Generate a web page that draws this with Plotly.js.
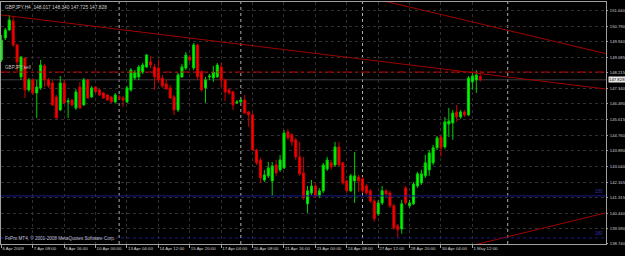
<!DOCTYPE html>
<html><head><meta charset="utf-8">
<script src="https://cdn.plot.ly/plotly-3.0.1.min.js"></script>
<style>html,body{margin:0;padding:0;background:#000;} #chart{width:625px;height:256px;}</style>
</head><body><div id="chart"></div>
<script>
const chartTitle = 'GBPJPY,H4  148.017 148.340 147.725 147.828';
const copyrightText = 'FxPro MT4, \u00a9 2001-2008 MetaQuotes Software Corp.';
const sellLabel = 'GBPJPY,sell';

const openP = [
148.93,150.15,150.59,151.09,149.76,147.99,149.04,147.27,147.82,147.10,
147.38,148.60,147.82,147.65,146.88,146.16,147.65,146.60,146.71,146.27,
147.43,146.44,147.82,146.88,147.43,147.27,147.10,146.99,146.88,146.60,
146.88,146.82,146.60,147.27,147.93,147.99,148.26,148.54,148.82,148.54,
148.48,147.93,147.60,147.38,146.88,146.16,147.99,148.48,149.09,148.48,
149.76,148.26,147.38,147.99,147.93,147.99,148.54,147.82,147.27,147.16,
146.55,146.60,146.71,146.05,145.88,143.94,143.39,142.28,142.51,142.23,
143.11,142.84,142.95,144.94,144.78,144.50,143.56,142.67,140.96,141.56,
141.95,141.40,141.68,142.89,143.23,143.11,144.11,143.23,142.23,141.68,
142.23,142.45,142.34,141.95,141.68,141.12,140.40,141.01,141.68,141.56,
140.85,139.74,139.57,141.84,140.85,140.96,141.95,142.12,142.51,142.84,
143.23,144.06,144.66,144.11,145.38,145.44,146.05,145.77,146.05,145.88,
147.71,147.82,148.017];
const highP = [
150.31,150.70,151.42,151.36,149.81,149.15,149.09,147.93,147.93,147.82,
148.93,148.71,147.93,147.82,146.99,148.04,147.82,146.82,146.77,147.32,
147.71,147.93,147.88,147.49,147.49,147.32,147.16,147.05,146.93,147.10,
146.99,146.93,147.49,148.48,148.37,148.65,148.76,149.26,149.15,148.71,
148.93,148.10,147.82,147.54,146.99,148.21,148.71,149.37,149.20,149.87,
149.81,148.37,147.99,148.15,148.60,148.76,148.76,147.88,147.38,147.21,
146.71,146.77,146.99,146.10,145.99,144.00,143.50,142.84,143.28,143.28,
143.39,143.67,145.05,145.11,144.88,144.61,144.39,143.56,141.95,142.28,
142.12,141.84,143.23,143.56,143.39,144.39,144.39,143.28,142.28,142.62,
143.83,142.56,142.45,142.06,141.79,141.23,141.18,141.95,141.79,141.68,
140.96,139.85,141.18,141.95,141.18,142.17,142.73,142.84,143.67,143.94,
144.22,144.72,144.78,145.77,146.27,146.16,146.44,146.16,146.16,148.04,
148.26,148.37,148.340];
const lowP = [
148.82,150.03,150.53,149.65,148.21,147.82,146.82,147.16,146.99,145.72,
147.27,147.43,147.38,146.38,145.66,146.10,146.49,145.72,146.33,146.16,
146.22,146.38,146.77,146.82,147.10,146.93,146.77,146.66,146.55,146.55,
146.71,146.33,146.55,147.16,147.82,147.82,148.15,148.48,148.48,147.27,
147.65,147.38,147.27,146.77,145.88,146.05,147.93,148.37,148.82,148.37,
147.82,147.16,146.55,147.82,147.71,147.93,147.43,146.66,146.99,146.16,
146.49,146.55,145.94,145.22,143.89,143.11,142.12,142.17,142.39,141.40,
142.51,142.73,142.89,144.50,144.17,143.39,142.51,141.18,140.46,141.45,
141.29,141.29,141.56,142.78,142.84,143.00,143.06,142.01,141.56,141.62,
141.01,141.62,141.56,141.45,141.01,139.96,140.29,140.90,141.40,140.73,
139.52,139.07,139.30,140.90,140.73,140.90,141.84,142.01,142.39,142.51,
143.11,143.94,143.56,144.00,144.66,144.50,145.50,145.66,145.77,145.83,
147.27,147.10,147.725];
const closeP = [
150.03,150.59,151.14,149.76,148.82,149.09,147.27,147.82,147.10,147.43,
148.65,147.82,147.49,146.44,145.72,147.65,146.55,146.66,146.44,147.16,
146.27,147.82,146.82,147.38,147.16,146.99,146.82,146.71,146.60,146.99,
146.82,146.71,147.38,148.37,148.26,148.54,148.65,149.20,148.65,147.99,
147.82,147.49,147.32,146.82,146.16,148.10,148.54,149.20,148.93,149.76,
147.99,147.27,147.82,148.04,148.26,148.65,147.82,147.16,147.10,146.44,
146.60,146.71,145.99,145.88,143.94,143.23,142.39,142.56,142.95,143.06,
142.67,143.39,144.88,144.61,144.39,143.56,142.62,141.29,141.68,141.95,
141.40,141.68,143.11,143.39,143.00,144.11,143.11,142.12,141.68,142.51,
142.51,142.23,141.68,141.56,141.12,140.13,141.01,141.68,141.51,140.85,
139.63,139.52,140.96,141.01,141.01,142.06,142.62,142.62,143.23,143.78,
144.06,144.61,144.06,145.50,145.55,145.99,145.77,146.05,145.88,147.93,
148.04,148.10,147.828];

const xTickBars = [0,8,16,24,32,40,48,56,64,72,80,88,96,104,112,120];
const xTickText = ['6 Apr 2009','7 Apr 08:00','8 Apr 16:00','10 Apr 00:00','13 Apr 04:00','14 Apr 12:00','15 Apr 20:00','17 Apr 04:00','20 Apr 08:00','21 Apr 16:00','23 Apr 00:00','24 Apr 08:00','27 Apr 12:00','28 Apr 20:00','30 Apr 04:00','1 May 12:00'];
const yTickVals = [151.640,150.790,149.940,149.085,148.215,147.340,146.490,145.615,144.760,143.890,143.040,142.165,141.315,140.440,139.590,138.740];
const separatorBars = [30,61,92,129];
const sellLevel = 148.26;
const bidPrice = 147.828;
const blueLevels = [141.40, 139.07];
const blueLabels = ['150', '180'];
const trendBars = [[0,154],[90,154],[120,154]];
const trendPrices = [[151.42,147.32],[152.58,149.28],[138.66,140.46]];

const barIdx = openP.map((_, i) => i);
const FONT = 'Liberation Sans, Arial, sans-serif';

const traces = [{
  type: 'candlestick', x: barIdx, open: openP, high: highP, low: lowP, close: closeP,
  increasing: {line: {color: '#00d000', width: 1}, fillcolor: '#00ff00'},
  decreasing: {line: {color: '#d00000', width: 1}, fillcolor: '#ff0000'},
  whiskerwidth: 0, hoverinfo: 'skip', showlegend: false
}];
trendBars.forEach((b, k) => traces.push({
  type: 'scatter', mode: 'lines', x: b, y: trendPrices[k],
  line: {color: '#a00000', width: 1}, hoverinfo: 'skip', showlegend: false
}));

const shapes = [];
separatorBars.forEach(b => shapes.push({type: 'line', xref: 'x', yref: 'paper', x0: b, x1: b, y0: 0, y1: 1,
  line: {color: '#b0b0b0', width: 1, dash: 'dot'}, layer: 'below'}));
shapes.push({type: 'line', xref: 'paper', yref: 'y', x0: 0, x1: 1, y0: bidPrice, y1: bidPrice, line: {color: '#404040', width: 1}, layer: 'below'});
shapes.push({type: 'line', xref: 'paper', yref: 'y', x0: 0, x1: 1, y0: sellLevel, y1: sellLevel, line: {color: '#c00000', width: 1, dash: 'dashdot'}});
shapes.push({type: 'line', xref: 'paper', yref: 'y', x0: 0, x1: 1, y0: blueLevels[0], y1: blueLevels[0], line: {color: '#1a1a90', width: 1}});
shapes.push({type: 'line', xref: 'paper', yref: 'y', x0: 0, x1: 1, y0: blueLevels[1], y1: blueLevels[1], line: {color: '#1a1a90', width: 1, dash: 'dot'}});

const annotations = [
  {xref: 'paper', yref: 'paper', x: 0, y: 1, xanchor: 'left', yanchor: 'top', xshift: 2, yshift: -1, text: chartTitle, showarrow: false, font: {family: FONT, size: 4.8, color: '#d0d0d0'}},
  {xref: 'paper', yref: 'paper', x: 0, y: 0, xanchor: 'left', yanchor: 'bottom', xshift: 2, yshift: 1, text: copyrightText, showarrow: false, font: {family: FONT, size: 4.6, color: '#c0c0c0'}},
  {xref: 'paper', yref: 'y', x: 0, y: sellLevel, xanchor: 'left', yanchor: 'bottom', xshift: 2, yshift: 0, text: sellLabel, showarrow: false, font: {family: FONT, size: 4.6, color: '#c0c0c0'}},
  {xref: 'paper', yref: 'y', x: 1, y: bidPrice, xanchor: 'left', yanchor: 'middle', xshift: 2, text: bidPrice.toFixed(3), showarrow: false, bgcolor: '#e8e8e8', borderpad: 0, font: {family: FONT, size: 4.3, color: '#000'}},
  {xref: 'paper', yref: 'y', x: 1, y: blueLevels[0], xanchor: 'right', yanchor: 'bottom', xshift: -1, text: blueLabels[0], showarrow: false, font: {family: FONT, size: 4.6, color: '#3030b0'}},
  {xref: 'paper', yref: 'y', x: 1, y: blueLevels[1], xanchor: 'right', yanchor: 'bottom', xshift: -1, text: blueLabels[1], showarrow: false, font: {family: FONT, size: 4.6, color: '#3030b0'}}
];

const layout = {
  width: 625, height: 256,
  margin: {l: 1, r: 19, t: 2, b: 12},
  paper_bgcolor: '#000', plot_bgcolor: '#000',
  showlegend: false, boxgap: 0.25, hovermode: false,
  xaxis: {range: [-0.1, 154.04], fixedrange: true, rangeslider: {visible: false},
    tickmode: 'array', tickvals: xTickBars, ticktext: xTickText, ticklabelposition: 'outside right',
    tickangle: 0, automargin: false,
    ticks: 'outside', ticklen: 3, tickcolor: '#a0a0a0', tickfont: {family: FONT, size: 4.4, color: '#d0d0d0'},
    showgrid: true, gridcolor: '#303030', griddash: 'dot', gridwidth: 1, zeroline: false,
    showline: true, linecolor: '#a0a0a0', linewidth: 1, mirror: true},
  yaxis: {range: [138.735, 152.138], side: 'right', fixedrange: true, automargin: false,
    tickmode: 'array', tickvals: yTickVals, ticktext: yTickVals.map(v => v.toFixed(3)),
    ticks: 'outside', ticklen: 1, ticklabelstandoff: 1, tickcolor: '#a0a0a0', tickfont: {family: FONT, size: 4.2, color: '#d0d0d0'},
    showgrid: true, gridcolor: '#303030', griddash: 'dot', gridwidth: 1, zeroline: false,
    showline: true, linecolor: '#a0a0a0', linewidth: 1, mirror: true},
  shapes: shapes, annotations: annotations
};
Plotly.newPlot('chart', traces, layout, {staticPlot: true, displayModeBar: false});
</script></body></html>
